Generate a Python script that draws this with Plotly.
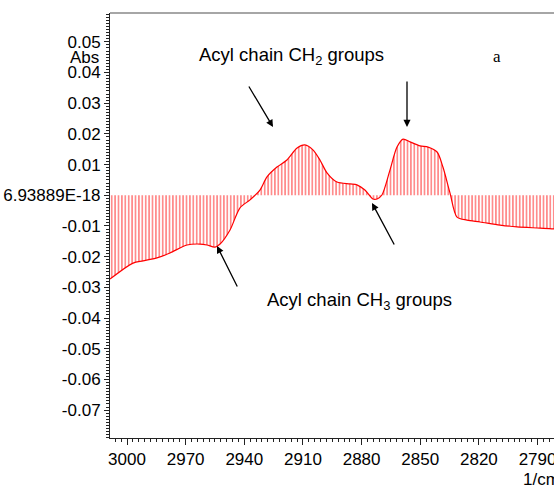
import plotly.graph_objects as go

# Spectrum data (wavenumber in 1/cm, absorbance)
wavenumber = [3008.7, 2996.9, 2991.8, 2984.7, 2978.0, 2969.3, 2962.7, 2959.1, 2955.0, 2952.4,
              2947.3, 2942.2, 2937.1, 2932.0, 2928.4, 2923.3, 2918.2, 2913.0, 2909.0, 2904.9,
              2901.3, 2897.7, 2892.6, 2885.9, 2882.4, 2878.3, 2874.2, 2872.1, 2869.6, 2865.5,
              2861.9, 2858.8, 2855.2, 2850.1, 2846.0, 2841.4, 2838.4, 2834.8, 2831.2, 2826.1,
              2819.4, 2809.2, 2800.5, 2788.7, 2775.0, 2765.0]
absorbance = [-0.0273, -0.0221, -0.0214, -0.0204, -0.0188, -0.0162, -0.0159, -0.0162, -0.0169, -0.0159,
              -0.0113, -0.0041, -0.0015, 0.0017, 0.0060, 0.0092, 0.0115, 0.0154, 0.0164, 0.0148,
              0.0115, 0.0073, 0.0043, 0.0037, 0.0034, 0.0017, -0.0012, -0.0012, 0.0001, 0.0082,
              0.0157, 0.0183, 0.0174, 0.0161, 0.0157, 0.0141, 0.0092, 0.0008, -0.0071, -0.0081,
              -0.0087, -0.0097, -0.0103, -0.0107, -0.0112, -0.0114]

x_tickvals = [3000, 2970, 2940, 2910, 2880, 2850, 2820, 2790]
x_ticktext = ["3000", "2970", "2940", "2910", "2880", "2850", "2820", "2790"]
y_tickvals = [0.05, 0.04, 0.03, 0.02, 0.01, 0.0, -0.01, -0.02, -0.03, -0.04, -0.05, -0.06, -0.07]
y_ticktext = ["0.05", "0.04", "0.03", "0.02", "0.01", "6.93889E-18", "-0.01", "-0.02", "-0.03",
              "-0.04", "-0.05", "-0.06", "-0.07"]

W, H = 580, 487          # wider than the window: the right part is cut off, like the reference
L, R, T, B = 110, 0, 13, 49

fig = go.Figure()
fig.add_trace(go.Scatter(
    x=wavenumber, y=absorbance, mode="lines",
    line=dict(color="red", width=1.2, shape="spline", smoothing=0.8),
    fill="tozeroy", fillcolor="rgba(0,0,0,0)",
    fillpattern=dict(shape="|", fgcolor="red", bgcolor="rgba(255,255,255,0)", size=3.4, solidity=0.45),
    hoverinfo="skip", showlegend=False,
))

font = dict(family="Arial, Liberation Sans, sans-serif", size=17, color="black")

fig.update_layout(
    width=W, height=H,
    margin=dict(l=L, r=R, t=T, b=B, pad=0, autoexpand=False),
    paper_bgcolor="white", plot_bgcolor="white",
    font=font,
    showlegend=False,
)
# x pixel 127 -> 3000, 1.955 px per 1/cm
x_left = 3000 + (127 - L) / 1.955
x_right = 3000 - (W - 127) / 1.955
fig.update_xaxes(
    range=[x_left, x_right], tickmode="array", tickvals=x_tickvals, ticktext=x_ticktext,
    automargin=False,
    showgrid=False, zeroline=False, showline=True, linecolor="#222", linewidth=1,
    ticks="outside", ticklen=6, tickcolor="#222", tickfont=font,
    minor=dict(dtick=3, tick0=3000, ticks="outside", ticklen=3, tickcolor="#222", showgrid=False),
)
fig.update_yaxes(
    range=[-0.0791, 0.0594], tickmode="array", tickvals=y_tickvals, ticktext=y_ticktext,
    automargin=False,
    showgrid=False, zeroline=False, showline=True, linecolor="#222", linewidth=1,
    ticks="outside", ticklen=5, tickcolor="#222", tickfont=font,
    minor=dict(dtick=0.001, tick0=0, ticks="outside", ticklen=3, tickcolor="#222", showgrid=False),
)

# top border
fig.add_shape(type="line", xref="paper", yref="paper", x0=0, x1=1, y0=1, y1=1,
              line=dict(color="#888", width=1.5))

pw, ph = W - L - R, H - T - B

def px(x):
    return (x - L) / pw

def py(y):
    return (H - B - y) / ph

# arrows: (head_x, head_y, dx, dy)
arrows = [(273, 127, -25, -42), (407, 127, 0, -47), (372, 203, 23, 43), (217, 246, 21, 42)]
for hx, hy, dx, dy in arrows:
    fig.add_annotation(x=px(hx), y=py(hy), xref="paper", yref="paper", text="",
                       showarrow=True, arrowhead=2, arrowsize=1.1, arrowwidth=1.3,
                       arrowcolor="black", ax=dx, ay=dy)

texts = [
    (291, 56, "Acyl chain CH<sub>2</sub> groups", "Arial, Liberation Sans, sans-serif", 18.5),
    (359, 301, "Acyl chain CH<sub>3</sub> groups", "Arial, Liberation Sans, sans-serif", 18.5),
    (497, 57, "a", "Times New Roman, Liberation Serif, serif", 17),
]
for x, y, t, fam, sz in texts:
    fig.add_annotation(x=px(x), y=py(y), xref="paper", yref="paper", text=t, showarrow=False,
                       font=dict(family=fam, size=sz, color="black"), xanchor="center", yanchor="middle")

fig.add_annotation(x=px(101), y=py(58), xref="paper", yref="paper", text="Abs", showarrow=False,
                   font=font, xanchor="right", yanchor="middle")
fig.add_annotation(x=px(521), y=py(479), xref="paper", yref="paper", text="1/cm", showarrow=False,
                   font=font, xanchor="left", yanchor="middle")

fig.write_html(
    "out.html",
    config={"displayModeBar": False},
    post_script="document.body.style.margin='0';document.body.style.overflow='hidden';"
                "document.documentElement.style.overflow='hidden';",
)
